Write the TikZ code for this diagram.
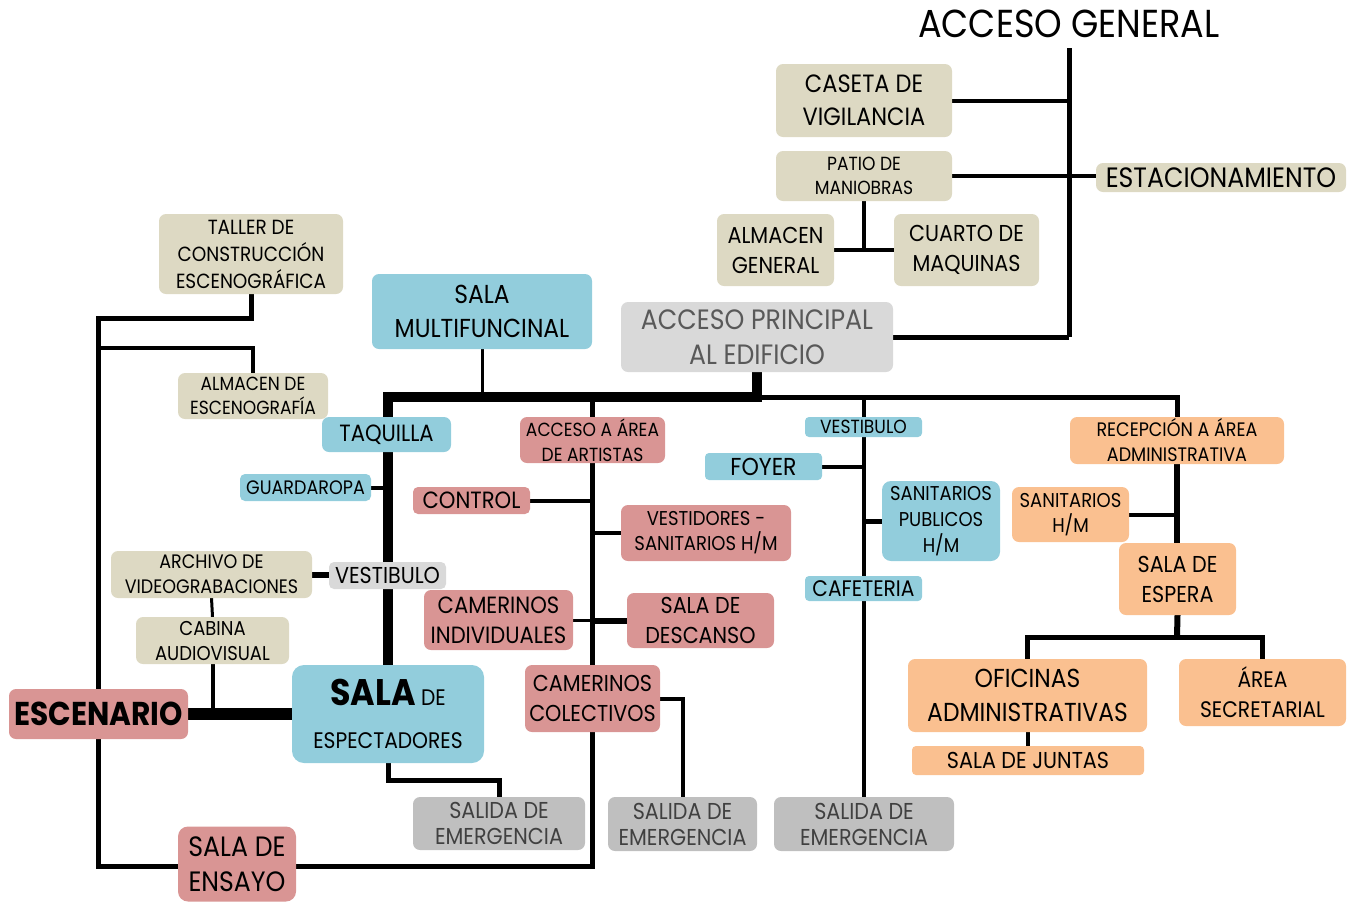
\documentclass[tikz,border=0pt]{standalone}
\usepackage{fontspec}
\setmainfont{Poppins}[FakeStretch=0.9]
\usetikzlibrary{calc}
\pgfdeclarelayer{background}
\pgfsetlayers{background,main}
\definecolor{cbeige}{RGB}{221,217,195}
\definecolor{cblue}{RGB}{146,205,220}
\definecolor{cpink}{RGB}{217,149,148}
\definecolor{corange}{RGB}{250,192,144}
\definecolor{clgray}{RGB}{217,217,217}
\definecolor{cgray}{RGB}{191,191,191}
\definecolor{cdtext}{RGB}{89,89,89}
\definecolor{cstext}{RGB}{64,64,64}
\newcommand\fsz[2]{\fontsize{#1}{#2}\selectfont}
\begin{document}
\begin{tikzpicture}[x=1pt,y=-1pt,
  box/.style={rounded corners=7pt,inner sep=0pt,outer sep=0pt,align=center,text=black},
  beige/.style={box,fill=cbeige},
  blue/.style={box,fill=cblue},
  pink/.style={box,fill=cpink},
  orange/.style={box,fill=corange},
  lgray/.style={box,fill=clgray},
  exitbox/.style={box,fill=cgray,text=cstext,font=\fsz{23}{26}},
  sz/.style 2 args={minimum width=#1pt,minimum height=#2pt},
  ln/.style={line width=#1,draw=black,line join=miter,line cap=butt},
]
\useasboundingbox (0,0) rectangle (1356,903);

% ---------- nodes ----------
\node[inner sep=0pt,font=\fsz{39}{40}] (ag) at (1069,24) {ACCESO GENERAL};
\node[beige,sz={176}{73},font=\fsz{25}{33}] (caseta) at (864,100.5) {CASETA DE\\VIGILANCIA};
\node[beige,sz={176}{50},font=\fsz{19}{24}] (patio) at (864,176) {PATIO DE\\MANIOBRAS};
\node[beige,sz={117}{72},font=\fsz{23}{30}] (almg) at (775.5,250) {ALMACEN\\GENERAL};
\node[beige,sz={145}{72},font=\fsz{23}{30}] (cuarto) at (966.5,250) {CUARTO DE\\MAQUINAS};
\node[beige,sz={250}{29},font=\fsz{28}{30}] (estac) at (1221,177.5) {ESTACIONAMIENTO};
\node[lgray,sz={272}{70},font=\fsz{28}{35},text=cdtext] (acp) at (757,337) {ACCESO PRINCIPAL\\AL EDIFICIO};
\node[beige,sz={184}{80},font=\fsz{20.5}{27}] (taller) at (251,254) {TALLER DE\\CONSTRUCCIÓN\\ESCENOGRÁFICA};
\node[blue,sz={220}{75},font=\fsz{26}{34}] (smulti) at (482,311.5) {SALA\\MULTIFUNCINAL};
\node[beige,sz={150}{46},font=\fsz{19}{24}] (almesc) at (253,396) {ALMACEN DE\\ESCENOGRAFÍA};
\node[blue,sz={129}{35},font=\fsz{23.5}{24}] (taquilla) at (386.5,434.5) {TAQUILLA};
\node[pink,sz={145}{46},font=\fsz{19}{25}] (artistas) at (592.5,440) {ACCESO A ÁREA\\DE ARTISTAS};
\node[blue,sz={117}{20},font=\fsz{19}{20},rounded corners=4pt] (vestb) at (863.5,427) {VESTIBULO};
\node[blue,sz={117}{27},font=\fsz{24.5}{24},rounded corners=4pt] (foyer) at (763.5,466.5) {FOYER};
\node[orange,sz={214}{47},font=\fsz{19.5}{25}] (recep) at (1177,440.5) {RECEPCIÓN A ÁREA\\ADMINISTRATIVA};
\node[blue,sz={131}{27},font=\fsz{19.5}{20},rounded corners=5pt] (guarda) at (305.5,487.5) {GUARDAROPA};
\node[pink,sz={117}{27},font=\fsz{23.5}{24},rounded corners=5pt] (control) at (471.5,500.5) {CONTROL};
\node[pink,sz={170}{56},font=\fsz{20}{25}] (vestid) at (706,533) {VESTIDORES -\\SANITARIOS H/M};
\node[blue,sz={118}{80},font=\fsz{20}{26},rounded corners=9pt] (sanpub) at (941,521) {SANITARIOS\\PUBLICOS\\H/M};
\node[orange,sz={117}{55},font=\fsz{20}{25}] (sanhm) at (1070.5,514.5) {SANITARIOS\\H/M};
\node[orange,sz={117}{72},font=\fsz{23}{30}] (espera) at (1177.5,579) {SALA DE\\ESPERA};
\node[beige,sz={201}{47},font=\fsz{19.5}{25}] (archivo) at (211.5,574.5) {ARCHIVO DE\\VIDEOGRABACIONES};
\node[lgray,sz={117}{27},font=\fsz{23}{24},rounded corners=5pt] (vestl) at (387.5,575.5) {VESTIBULO};
\node[pink,sz={149}{60},font=\fsz{23.5}{30}] (camind) at (498.5,620) {CAMERINOS\\INDIVIDUALES};
\node[pink,sz={147}{55},font=\fsz{23}{30}] (sdesc) at (700.5,620.5) {SALA DE\\DESCANSO};
\node[blue,sz={117}{25},font=\fsz{22.5}{24},rounded corners=4pt] (cafe) at (863.5,588.5) {CAFETERIA};
\node[beige,sz={153}{47},font=\fsz{20}{25}] (cabina) at (212.5,640.5) {CABINA\\AUDIOVISUAL};
\node[orange,sz={239}{73},font=\fsz{26}{34}] (ofic) at (1027.5,695.5) {OFICINAS\\ADMINISTRATIVAS};
\node[orange,sz={167}{67},font=\fsz{22.5}{30}] (area) at (1262.5,692.5) {ÁREA\\SECRETARIAL};
\node[orange,sz={232}{29},font=\fsz{23}{24},rounded corners=4pt] (juntas) at (1028,760.5) {SALA DE JUNTAS};
\node[pink,sz={179}{50},font=\bfseries\fsz{33}{36}] (escen) at (98.5,714) {ESCENARIO};
\node[blue,sz={192}{98},font=\fsz{22.5}{43},rounded corners=12pt] (sesp) at (388,714)
  {{\bfseries\fsz{37}{43}SALA} DE\\ESPECTADORES};
\node[pink,sz={135}{67},font=\fsz{23}{30}] (camcol) at (592.5,698.5) {CAMERINOS\\COLECTIVOS};
\node[exitbox,sz={172}{53}] (sal1) at (499,823.5) {SALIDA DE\\EMERGENCIA};
\node[exitbox,sz={149}{54}] (sal2) at (682.5,824) {SALIDA DE\\EMERGENCIA};
\node[exitbox,sz={180}{54}] (sal3) at (864,824) {SALIDA DE\\EMERGENCIA};
\node[pink,sz={118}{75},font=\fsz{28}{35},rounded corners=10pt] (ensayo) at (237,864) {SALA DE\\ENSAYO};

% ---------- junction coordinates ----------
\coordinate (agtop) at (1069,48);
\coordinate (agbot) at (1069,337);
\coordinate (busL) at (388,397);
\coordinate (busM) at (762,397);
\coordinate (busR) at (1177,397);
\coordinate (spine) at (864,397);
\coordinate (loopB) at (98,866);
\coordinate (loopT) at (98,318);
\coordinate (loopA) at (98,348);
\coordinate (sespB) at (388,780);
\coordinate (adminbus) at (1177,637);

% ---------- connectors ----------
\begin{pgfonlayer}{background}
\draw[ln=5pt] (agtop) -- (agbot);
\draw[ln=4pt] (caseta.east) -- (caseta.east -| agtop);
\draw[ln=4pt] (patio.east) -- (patio.east -| estac.west);
\draw[ln=4pt] (patio.south) -- (patio.south |- almg.east);
\draw[ln=4pt] (almg.east) -- (cuarto.west);
\draw[ln=5pt] (acp.east) -- (agbot);
% main bus
\draw[ln=10pt] (acp.south) -- (acp.south |- busL);
\draw[ln=10pt] (sesp.north) -- ([yshift=5pt]busL) -- (busL) -- (busM);
\draw[ln=5pt] (busM) -- (busR) -- (recep.north);
\draw[ln=3pt] (smulti.south) -- (smulti.south |- busL);
\draw[ln=4pt] (guarda.east) -- (guarda.east -| busL);
\draw[ln=6pt] (archivo.east) -- (archivo.east -| vestl.west);
\draw[ln=3pt] (archivo.south) -- (cabina.north);
\draw[ln=4pt] (cabina.south) -- (cabina.south |- escen.east);
\draw[ln=12pt] (escen.east) -- (sesp.west);
% artists
\draw[ln=5pt] (artistas.north) -- (artistas.north |- busL);
\draw[ln=5pt] (artistas.south) -- (camcol.north);
\draw[ln=4pt] (control.east) -- (control.east -| artistas.south);
\draw[ln=4pt] (vestid.west) -- (vestid.west -| artistas.south);
\draw[ln=3pt] (camind.east) -- (camind.east -| artistas.south);
\draw[ln=6pt] (sdesc.west) -- (sdesc.west -| artistas.south);
\draw[ln=4pt] (camcol.east) -| (sal2.north);
\draw[ln=5pt] (camcol.south) -- (camcol.south |- loopB) -- (loopB) -- (loopT) -| (taller.south);
\draw[ln=4pt] (loopA) -| (almesc.north);
\draw[ln=5pt] (sesp.south) -- (sespB) -| (sal1.north);
% public spine
\draw[ln=4pt] (spine) -- (sal3.north);
\draw[ln=4pt] (foyer.east) -- (foyer.east -| spine);
\draw[ln=5pt] (sanpub.west) -- (sanpub.west -| spine);
% administration
\draw[ln=6pt] (recep.south) -- (recep.south |- espera.north);
\draw[ln=4pt] (sanhm.east) -- (sanhm.east -| recep.south);
\draw[ln=6pt] (espera.south) -- (adminbus);
\draw[ln=5pt] (ofic.north) -- (ofic.north |- adminbus) -- (area.north |- adminbus) -- (area.north);
\draw[ln=4pt] (ofic.south) -- (ofic.south |- juntas.north);
\end{pgfonlayer}
\end{tikzpicture}
\end{document}
